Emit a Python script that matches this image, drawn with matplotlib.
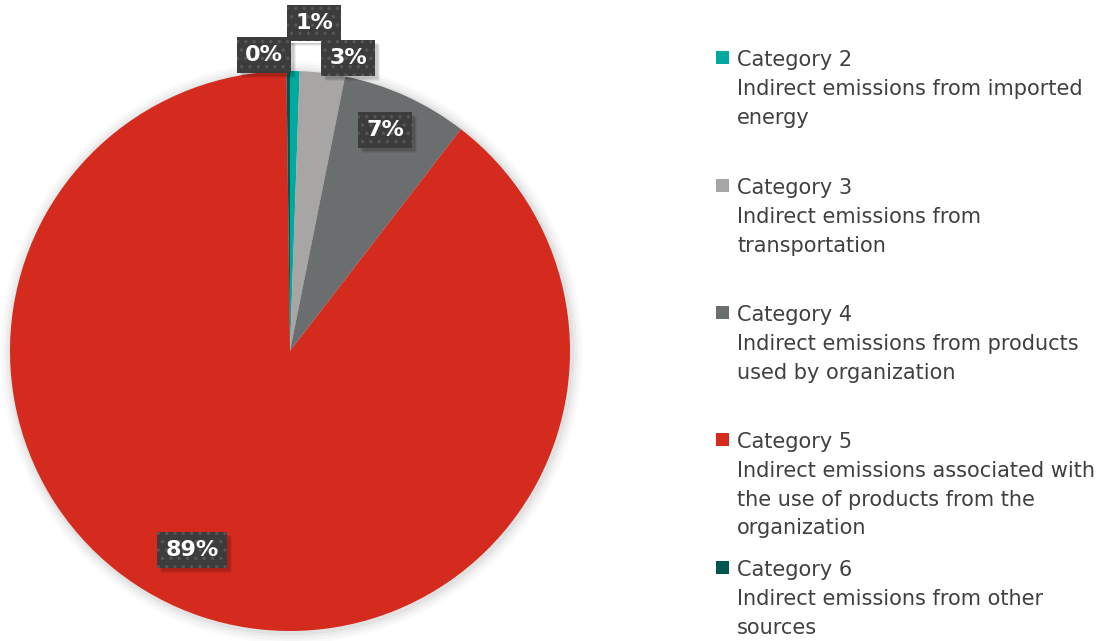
import matplotlib.pyplot as plt
from matplotlib.patches import Circle, Rectangle

categories = ["Category 2", "Category 3", "Category 4", "Category 5", "Category 6"]
descriptions = [
    ["Indirect emissions from imported", "energy"],
    ["Indirect emissions from", "transportation"],
    ["Indirect emissions from products", "used by organization"],
    ["Indirect emissions associated with", "the use of products from the", "organization"],
    ["Indirect emissions from other", "sources"],
]
values = [0.55, 2.6, 7.3, 89.35, 0.2]
pct_labels = ["1%", "3%", "7%", "89%", "0%"]
colors = ["#00A99D", "#A8A5A5", "#6B6E6E", "#D52B1E", "#00574F"]

W, H = 1111, 641
fig = plt.figure(figsize=(W / 100, H / 100), dpi=100)

cx, cy, R = 290, 290, 280  # pixel coords from bottom
half = 1.1 * R
ax = fig.add_axes([(cx - half) / W, (cy - half) / H, 2 * half / W, 2 * half / H])
ax.axis("off")

# soft shadow
for r, a in [(1.04, 0.02), (1.03, 0.025), (1.02, 0.03), (1.01, 0.04)]:
    ax.add_patch(Circle((0.005, -0.005), r, color="#000000", alpha=a, lw=0, zorder=0))

wedges, _ = ax.pie(values, colors=colors, startangle=90, counterclock=False,
                   radius=1.0, wedgeprops=dict(linewidth=0))
for w in wedges:
    w.set_zorder(2)
ax.set_xlim(-1.1, 1.1)
ax.set_ylim(-1.1, 1.1)
ax.set_aspect("equal")

# label positions in pixel coords (from top), converted
label_px = [(314, 23), (348, 58), (385, 130), (192, 550), (264, 55)]


def to_data(px, py):
    return ((px - cx) / R, ((H - py) - cy) / R)


plt.rcParams["hatch.linewidth"] = 1.3
texts = []
for (px, py), lab in zip(label_px, pct_labels):
    x, y = to_data(px, py)
    t = ax.text(x, y, lab, ha="center", va="center", fontsize=16, fontweight="bold",
                color="white", zorder=5,
                bbox=dict(boxstyle="square,pad=0.38", fc="#3C3C3C", ec="#555555",
                          lw=0, hatch=".."))
    texts.append(t)

fig.canvas.draw()
r = fig.canvas.get_renderer()
for t in texts:
    bb = t.get_bbox_patch().get_window_extent(r)
    for off, a in [(5, 0.06), (4, 0.08), (3, 0.08)]:
        ax.add_patch(Rectangle(((bb.x0 + off) / W, (bb.y0 - off) / H),
                               bb.width / W, bb.height / H,
                               transform=fig.transFigure, fc="#000000", alpha=a,
                               lw=0, zorder=4))

# legend
starts = [58, 186, 313, 440, 568]
step = 28.8
text_color = "#404040"
for cat, desc, col, ys in zip(categories, descriptions, colors, starts):
    fig.patches.append(Rectangle((716 / W, (H - ys - 6) / H), 13 / W, 13 / H,
                                 transform=fig.transFigure, color=col, lw=0))
    for k, line in enumerate([cat] + desc):
        fig.text(737 / W, (H - ys - k * step) / H, line, ha="left", va="center_baseline",
                 fontsize=15, color=text_color, transform=fig.transFigure)

fig.savefig("out.png", dpi=100)
